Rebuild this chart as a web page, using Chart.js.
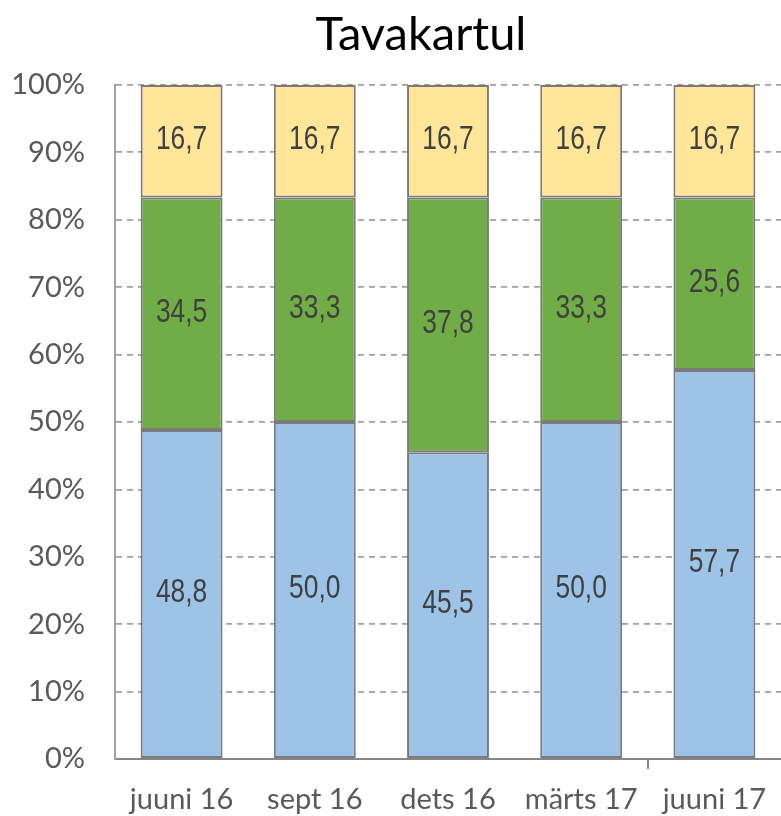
<!DOCTYPE html>
<html>
<head>
<meta charset="utf-8">
<script src="https://cdn.jsdelivr.net/npm/chart.js@4.4.1/dist/chart.umd.min.js"></script>
<style>
  html, body { margin: 0; padding: 0; background: #fff; }
  #wrap { width: 781px; height: 816px; position: relative; }
</style>
</head>
<body>
<div id="wrap"><canvas id="chart"></canvas></div>
<script>
  // categories and series (per cent of total)
  const categories = ["juuni 16", "sept 16", "dets 16", "märts 17", "juuni 17"];
  const blueValues   = [48.8, 50.0, 45.5, 50.0, 57.7];
  const greenValues  = [34.5, 33.3, 37.8, 33.3, 25.6];
  const yellowValues = [16.7, 16.7, 16.7, 16.7, 16.7];
  const titleText = "Tavakartul";

  const GRID = "#a0a0a0";
  const AXIS = "#868686";

  // title drawn over the plot, slightly left of the plot centre as in the source
  const titlePlugin = {
    id: "fixedTitle",
    afterDraw(chart) {
      const ctx = chart.ctx;
      ctx.save();
      ctx.font = "47px Lato, 'Open Sans', sans-serif";
      ctx.fillStyle = "#000";
      ctx.textAlign = "center";
      ctx.textBaseline = "middle";
      ctx.fillText(titleText, 421, 35);
      ctx.restore();
    }
  };

  // value labels centred in each stacked segment, squeezed to look like a narrow face
  const valueLabels = {
    id: "valueLabels",
    afterDatasetsDraw(chart) {
      const ctx = chart.ctx;
      chart.data.datasets.forEach((ds, di) => {
        const meta = chart.getDatasetMeta(di);
        meta.data.forEach((bar, i) => {
          const p = bar.getCenterPoint();
          ctx.save();
          ctx.translate(p.x, p.y - 1);
          ctx.scale(0.8, 1);
          ctx.font = "33px 'Liberation Sans', Arial, sans-serif";
          ctx.fillStyle = "#404040";
          ctx.textAlign = "center";
          ctx.textBaseline = "middle";
          ctx.fillText(ds.data[i].toFixed(1).replace(".", ","), 0, 0);
          ctx.restore();
        });
      });
    }
  };

  const barStyle = { borderColor: "#7a7a7a", borderWidth: 2, borderSkipped: false,
                     barPercentage: 0.615, categoryPercentage: 1.0 };

  new Chart(document.getElementById("chart"), {
    type: "bar",
    data: {
      labels: categories,
      datasets: [
        Object.assign({ label: "a", data: blueValues,   backgroundColor: "#9dc3e6" }, barStyle),
        Object.assign({ label: "b", data: greenValues,  backgroundColor: "#70ad47" }, barStyle),
        Object.assign({ label: "c", data: yellowValues, backgroundColor: "#ffe699" }, barStyle),
      ],
    },
    options: {
      responsive: true,
      maintainAspectRatio: false,
      animation: false,
      layout: { padding: { top: 85, left: 0, right: 0, bottom: 0 } },
      plugins: {
        legend: { display: false },
        tooltip: { enabled: false },
        title: { display: false },
      },
      scales: {
        x: {
          stacked: true,
          offset: true,
          grid: {
            offset: true,
            drawOnChartArea: false,
            drawTicks: true,
            tickLength: 10,
            lineWidth: 2,
            color: ctx => (ctx.index === 4 ? AXIS : "rgba(0,0,0,0)"),
          },
          border: { display: true, color: AXIS, width: 2 },
          ticks: {
            color: "#595959",
            font: { family: "Lato, 'Open Sans', sans-serif", size: 29 },
            padding: 13,
            maxRotation: 0,
          },
          afterFit: s => { s.height = 57; },
        },
        y: {
          stacked: true,
          min: 0,
          max: 100,
          grid: {
            drawTicks: false,
            lineWidth: 1.8,
            color: ctx => (ctx.tick && ctx.tick.value === 0 ? "rgba(0,0,0,0)" : GRID),
          },
          border: { display: true, color: GRID, width: 2, dash: [6, 5] },
          ticks: {
            stepSize: 10,
            padding: 30,
            color: "#595959",
            font: { family: "Lato, 'Open Sans', sans-serif", size: 29 },
            callback: v => v + "%",
          },
          afterFit: s => { s.width = 115; },
        },
      },
    },
    plugins: [titlePlugin, valueLabels],
  });
</script>
</body>
</html>
